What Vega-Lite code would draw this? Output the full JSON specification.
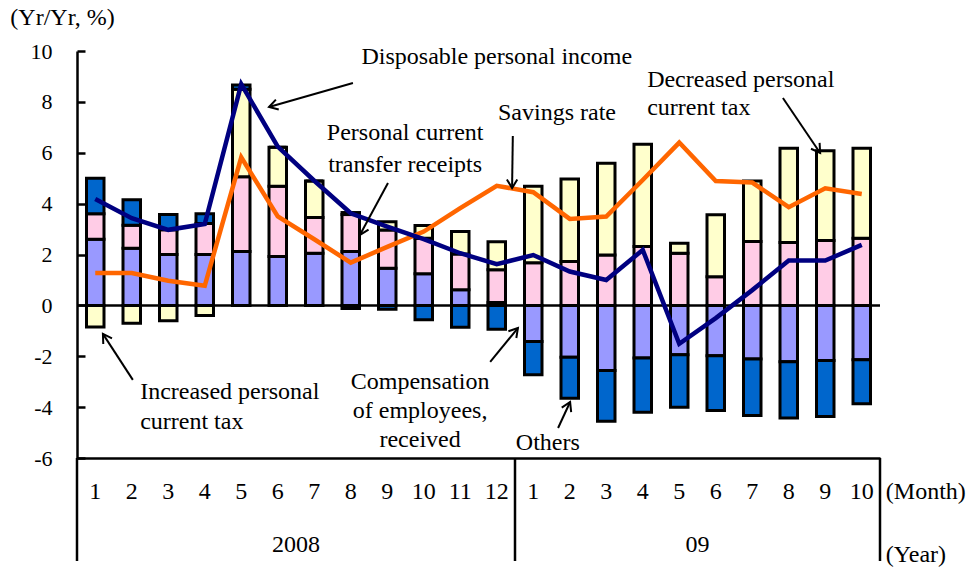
{
  "$schema": "https://vega.github.io/schema/vega-lite/v6.json",
  "width": 803,
  "height": 407,
  "autosize": "none",
  "padding": {"left": 77, "top": 51, "right": 89, "bottom": 109},
  "background": "white",
  "data": {"values": [{}]},
  "config": {
    "view": {"stroke": null},
    "font": "Liberation Serif",
    "text": {"font": "Liberation Serif", "fontSize": 24, "color": "black"}
  },
  "datasets": {
    "bars": [
      {"i":1,"s":"Compensation","k":1,"v":2.6},{"i":1,"s":"Transfer receipts","k":2,"v":1.0},{"i":1,"s":"Tax","k":3,"v":-0.85},{"i":1,"s":"Others","k":4,"v":1.4},
      {"i":2,"s":"Compensation","k":1,"v":2.25},{"i":2,"s":"Transfer receipts","k":2,"v":0.9},{"i":2,"s":"Tax","k":3,"v":-0.7},{"i":2,"s":"Others","k":4,"v":1.0},
      {"i":3,"s":"Compensation","k":1,"v":2.0},{"i":3,"s":"Transfer receipts","k":2,"v":0.97},{"i":3,"s":"Tax","k":3,"v":-0.6},{"i":3,"s":"Others","k":4,"v":0.6},
      {"i":4,"s":"Compensation","k":1,"v":2.0},{"i":4,"s":"Transfer receipts","k":2,"v":1.22},{"i":4,"s":"Tax","k":3,"v":-0.4},{"i":4,"s":"Others","k":4,"v":0.38},
      {"i":5,"s":"Compensation","k":1,"v":2.12},{"i":5,"s":"Transfer receipts","k":2,"v":2.94},{"i":5,"s":"Tax","k":3,"v":3.44},{"i":5,"s":"Others","k":4,"v":0.16},
      {"i":6,"s":"Compensation","k":1,"v":1.92},{"i":6,"s":"Transfer receipts","k":2,"v":2.76},{"i":6,"s":"Tax","k":3,"v":1.54},{"i":6,"s":"Others","k":4,"v":0},
      {"i":7,"s":"Compensation","k":1,"v":2.05},{"i":7,"s":"Transfer receipts","k":2,"v":1.4},{"i":7,"s":"Tax","k":3,"v":1.44},{"i":7,"s":"Others","k":4,"v":0},
      {"i":8,"s":"Compensation","k":1,"v":2.12},{"i":8,"s":"Transfer receipts","k":2,"v":1.45},{"i":8,"s":"Tax","k":3,"v":0.08},{"i":8,"s":"Others","k":4,"v":-0.12},
      {"i":9,"s":"Compensation","k":1,"v":1.46},{"i":9,"s":"Transfer receipts","k":2,"v":1.5},{"i":9,"s":"Tax","k":3,"v":0.33},{"i":9,"s":"Others","k":4,"v":-0.15},
      {"i":10,"s":"Compensation","k":1,"v":1.24},{"i":10,"s":"Transfer receipts","k":2,"v":1.4},{"i":10,"s":"Tax","k":3,"v":0.5},{"i":10,"s":"Others","k":4,"v":-0.57},
      {"i":11,"s":"Compensation","k":1,"v":0.61},{"i":11,"s":"Transfer receipts","k":2,"v":1.41},{"i":11,"s":"Tax","k":3,"v":0.88},{"i":11,"s":"Others","k":4,"v":-0.86},
      {"i":12,"s":"Compensation","k":1,"v":0.11},{"i":12,"s":"Transfer receipts","k":2,"v":1.29},{"i":12,"s":"Tax","k":3,"v":1.1},{"i":12,"s":"Others","k":4,"v":-0.94},
      {"i":13,"s":"Compensation","k":1,"v":-1.42},{"i":13,"s":"Transfer receipts","k":2,"v":1.68},{"i":13,"s":"Tax","k":3,"v":3.0},{"i":13,"s":"Others","k":4,"v":-1.31},
      {"i":14,"s":"Compensation","k":1,"v":-2.04},{"i":14,"s":"Transfer receipts","k":2,"v":1.72},{"i":14,"s":"Tax","k":3,"v":3.25},{"i":14,"s":"Others","k":4,"v":-1.61},
      {"i":15,"s":"Compensation","k":1,"v":-2.56},{"i":15,"s":"Transfer receipts","k":2,"v":1.98},{"i":15,"s":"Tax","k":3,"v":3.61},{"i":15,"s":"Others","k":4,"v":-2.0},
      {"i":16,"s":"Compensation","k":1,"v":-2.07},{"i":16,"s":"Transfer receipts","k":2,"v":2.31},{"i":16,"s":"Tax","k":3,"v":4.02},{"i":16,"s":"Others","k":4,"v":-2.13},
      {"i":17,"s":"Compensation","k":1,"v":-1.94},{"i":17,"s":"Transfer receipts","k":2,"v":2.05},{"i":17,"s":"Tax","k":3,"v":0.39},{"i":17,"s":"Others","k":4,"v":-2.06},
      {"i":18,"s":"Compensation","k":1,"v":-1.98},{"i":18,"s":"Transfer receipts","k":2,"v":1.13},{"i":18,"s":"Tax","k":3,"v":2.43},{"i":18,"s":"Others","k":4,"v":-2.15},
      {"i":19,"s":"Compensation","k":1,"v":-2.11},{"i":19,"s":"Transfer receipts","k":2,"v":2.51},{"i":19,"s":"Tax","k":3,"v":2.38},{"i":19,"s":"Others","k":4,"v":-2.22},
      {"i":20,"s":"Compensation","k":1,"v":-2.22},{"i":20,"s":"Transfer receipts","k":2,"v":2.47},{"i":20,"s":"Tax","k":3,"v":3.71},{"i":20,"s":"Others","k":4,"v":-2.21},
      {"i":21,"s":"Compensation","k":1,"v":-2.17},{"i":21,"s":"Transfer receipts","k":2,"v":2.55},{"i":21,"s":"Tax","k":3,"v":3.53},{"i":21,"s":"Others","k":4,"v":-2.2},
      {"i":22,"s":"Compensation","k":1,"v":-2.14},{"i":22,"s":"Transfer receipts","k":2,"v":2.64},{"i":22,"s":"Tax","k":3,"v":3.54},{"i":22,"s":"Others","k":4,"v":-1.73}
    ],
    "lines": [
      {"i":1,"m":"1","dpi":4.18,"sav":1.27},
      {"i":2,"m":"2","dpi":3.43,"sav":1.27},
      {"i":3,"m":"3","dpi":2.97,"sav":0.97},
      {"i":4,"m":"4","dpi":3.2,"sav":0.77},
      {"i":5,"m":"5","dpi":8.7,"sav":5.82},
      {"i":6,"m":"6","dpi":6.24,"sav":3.5},
      {"i":7,"m":"7","dpi":4.9,"sav":2.6},
      {"i":8,"m":"8","dpi":3.62,"sav":1.68},
      {"i":9,"m":"9","dpi":3.1,"sav":2.3},
      {"i":10,"m":"10","dpi":2.6,"sav":2.9},
      {"i":11,"m":"11","dpi":2.05,"sav":3.82},
      {"i":12,"m":"12","dpi":1.62,"sav":4.7},
      {"i":13,"m":"1","dpi":1.98,"sav":4.45},
      {"i":14,"m":"2","dpi":1.33,"sav":3.4},
      {"i":15,"m":"3","dpi":1.0,"sav":3.49},
      {"i":16,"m":"4","dpi":2.18,"sav":4.93},
      {"i":17,"m":"5","dpi":-1.51,"sav":6.4},
      {"i":18,"m":"6","dpi":-0.5,"sav":4.89},
      {"i":19,"m":"7","dpi":0.6,"sav":4.83},
      {"i":20,"m":"8","dpi":1.76,"sav":3.86},
      {"i":21,"m":"9","dpi":1.76,"sav":4.6},
      {"i":22,"m":"10","dpi":2.38,"sav":4.38}
    ]
  },
  "layer": [
    {
      "data": {"name": "bars"},
      "mark": {"type": "bar", "width": 17.5, "stroke": "black", "strokeWidth": 3},
      "encoding": {
        "x": {"field": "i", "type": "quantitative", "scale": {"domain": [0.5, 22.5], "nice": false, "zero": false, "padding": 0},
              "axis": {"labels": false, "ticks": false, "grid": false, "title": null, "domainColor": "black", "domainWidth": 2.5}},
        "y": {"field": "v", "type": "quantitative", "stack": "zero", "scale": {"domain": [-6, 10], "nice": false},
              "axis": {"values": [-6,-4,-2,0,2,4,6,8,10], "grid": false, "tickSize": -8, "tickWidth": 2.5, "tickColor": "black",
                       "domainColor": "black", "domainWidth": 2.5, "labelFont": "Liberation Serif", "labelFontSize": 22,
                       "labelColor": "black", "labelPadding": 33, "labelExpr": "'' + datum.value",
                       "title": "(Yr/Yr, %)", "titleAngle": 0, "titleX": -15, "titleY": -34, "titleAlign": "center",
                       "titleBaseline": "middle", "titleFont": "Liberation Serif", "titleFontSize": 24,
                       "titleFontWeight": "normal", "titleColor": "black"}},
        "color": {"field": "s", "type": "nominal",
                  "scale": {"domain": ["Compensation", "Transfer receipts", "Tax", "Others"],
                            "range": ["#9999FF", "#FFCCE6", "#FFFFCC", "#0066CC"]}, "legend": null},
        "order": {"field": "k", "type": "quantitative"}
      }
    },
    {"mark": {"type": "rule", "stroke": "black", "strokeWidth": 2.5}, "encoding": {"y": {"datum": 0}}},
    {
      "data": {"name": "lines"},
      "mark": {"type": "line", "color": "#FF6600", "strokeWidth": 4.5},
      "encoding": {"x": {"field": "i", "type": "quantitative"}, "y": {"field": "sav", "type": "quantitative"}}
    },
    {
      "data": {"name": "lines"},
      "mark": {"type": "line", "color": "#000080", "strokeWidth": 4.5},
      "encoding": {"x": {"field": "i", "type": "quantitative"}, "y": {"field": "dpi", "type": "quantitative"}}
    },
    {
      "data": {"name": "lines"},
      "mark": {"type": "text", "baseline": "middle", "align": "center"},
      "encoding": {"x": {"field": "i", "type": "quantitative"}, "y": {"datum": -7.34}, "text": {"field": "m"}}
    },
    {"mark": {"type": "text", "baseline": "middle", "align": "center"}, "encoding": {"x": {"datum": 6.5}, "y": {"datum": -9.42}, "text": {"value": "2008"}}},
    {"mark": {"type": "text", "baseline": "middle", "align": "center"}, "encoding": {"x": {"datum": 17.5}, "y": {"datum": -9.42}, "text": {"value": "09"}}},
    {"mark": {"type": "text", "baseline": "middle", "align": "left"}, "encoding": {"x": {"datum": 22.66}, "y": {"datum": -7.34}, "text": {"value": "(Month)"}}},
    {"mark": {"type": "text", "baseline": "middle", "align": "left"}, "encoding": {"x": {"datum": 22.66}, "y": {"datum": -9.81}, "text": {"value": "(Year)"}}},
    {"mark": {"type": "rule", "stroke": "black", "strokeWidth": 2.5}, "encoding": {"x": {"datum": 0.5}, "y": {"datum": -6}, "y2": {"datum": -10.05}}},
    {"mark": {"type": "rule", "stroke": "black", "strokeWidth": 2.5}, "encoding": {"x": {"datum": 12.5}, "y": {"datum": -6}, "y2": {"datum": -10.05}}},
    {"mark": {"type": "rule", "stroke": "black", "strokeWidth": 2.5}, "encoding": {"x": {"datum": 22.5}, "y": {"datum": -6}, "y2": {"datum": -10.05}}},

    {"mark": {"type": "text", "baseline": "middle", "align": "center"}, "encoding": {"x": {"datum": 12.0}, "y": {"datum": 9.76}, "text": {"value": "Disposable personal income"}}},
    {"mark": {"type": "rule", "stroke": "black", "strokeWidth": 2}, "encoding": {"x": {"datum": 8.06}, "y": {"datum": 8.74}, "x2": {"datum": 5.76}, "y2": {"datum": 7.8}}},
    {"mark": {"type": "point", "shape": "M-0.6,1L0,0L0.6,1", "filled": false, "color": "black", "strokeWidth": 2, "size": 300, "angle": 254, "opacity": 1}, "encoding": {"x": {"datum": 5.76}, "y": {"datum": 7.8}}},

    {"mark": {"type": "text", "baseline": "middle", "align": "center", "lineHeight": 32}, "encoding": {"x": {"datum": 9.49}, "y": {"datum": 6.78}, "text": {"value": ["Personal current", "transfer receipts"]}}},
    {"mark": {"type": "rule", "stroke": "black", "strokeWidth": 2}, "encoding": {"x": {"datum": 9.02}, "y": {"datum": 4.81}, "x2": {"datum": 8.25}, "y2": {"datum": 2.77}}},
    {"mark": {"type": "point", "shape": "M-0.6,1L0,0L0.6,1", "filled": false, "color": "black", "strokeWidth": 2, "size": 300, "angle": 208, "opacity": 1}, "encoding": {"x": {"datum": 8.25}, "y": {"datum": 2.77}}},

    {"mark": {"type": "text", "baseline": "middle", "align": "center"}, "encoding": {"x": {"datum": 13.65}, "y": {"datum": 7.56}, "text": {"value": "Savings rate"}}},
    {"mark": {"type": "rule", "stroke": "black", "strokeWidth": 2}, "encoding": {"x": {"datum": 12.44}, "y": {"datum": 6.66}, "x2": {"datum": 12.42}, "y2": {"datum": 4.61}}},
    {"mark": {"type": "point", "shape": "M-0.6,1L0,0L0.6,1", "filled": false, "color": "black", "strokeWidth": 2, "size": 300, "angle": 180, "opacity": 1}, "encoding": {"x": {"datum": 12.42}, "y": {"datum": 4.61}}},

    {"mark": {"type": "text", "baseline": "middle", "align": "left", "lineHeight": 28}, "encoding": {"x": {"datum": 16.12}, "y": {"datum": 8.86}, "text": {"value": ["Decreased personal", "current tax"]}}},
    {"mark": {"type": "rule", "stroke": "black", "strokeWidth": 2}, "encoding": {"x": {"datum": 19.84}, "y": {"datum": 8.15}, "x2": {"datum": 20.86}, "y2": {"datum": 5.99}}},
    {"mark": {"type": "point", "shape": "M-0.6,1L0,0L0.6,1", "filled": false, "color": "black", "strokeWidth": 2, "size": 300, "angle": 146, "opacity": 1}, "encoding": {"x": {"datum": 20.86}, "y": {"datum": 5.99}}},

    {"mark": {"type": "text", "baseline": "middle", "align": "left", "lineHeight": 30}, "encoding": {"x": {"datum": 2.23}, "y": {"datum": -3.4}, "text": {"value": ["Increased personal", "current tax"]}}},
    {"mark": {"type": "rule", "stroke": "black", "strokeWidth": 2}, "encoding": {"x": {"datum": 2.03}, "y": {"datum": -2.93}, "x2": {"datum": 1.21}, "y2": {"datum": -1.12}}},
    {"mark": {"type": "point", "shape": "M-0.6,1L0,0L0.6,1", "filled": false, "color": "black", "strokeWidth": 2, "size": 300, "angle": 327, "opacity": 1}, "encoding": {"x": {"datum": 1.21}, "y": {"datum": -1.12}}},

    {"mark": {"type": "text", "baseline": "middle", "align": "center", "lineHeight": 29}, "encoding": {"x": {"datum": 9.9}, "y": {"datum": -3.01}, "text": {"value": ["Compensation", "of employees,", "received"]}}},
    {"mark": {"type": "rule", "stroke": "black", "strokeWidth": 2}, "encoding": {"x": {"datum": 11.82}, "y": {"datum": -2.22}, "x2": {"datum": 12.58}, "y2": {"datum": -0.89}}},
    {"mark": {"type": "point", "shape": "M-0.6,1L0,0L0.6,1", "filled": false, "color": "black", "strokeWidth": 2, "size": 300, "angle": 40, "opacity": 1}, "encoding": {"x": {"datum": 12.58}, "y": {"datum": -0.89}}},

    {"mark": {"type": "text", "baseline": "middle", "align": "center"}, "encoding": {"x": {"datum": 13.4}, "y": {"datum": -5.41}, "text": {"value": "Others"}}},
    {"mark": {"type": "rule", "stroke": "black", "strokeWidth": 2}, "encoding": {"x": {"datum": 13.68}, "y": {"datum": -4.82}, "x2": {"datum": 14.01}, "y2": {"datum": -3.8}}},
    {"mark": {"type": "point", "shape": "M-0.6,1L0,0L0.6,1", "filled": false, "color": "black", "strokeWidth": 2, "size": 300, "angle": 25, "opacity": 1}, "encoding": {"x": {"datum": 14.01}, "y": {"datum": -3.8}}}
  ]
}
